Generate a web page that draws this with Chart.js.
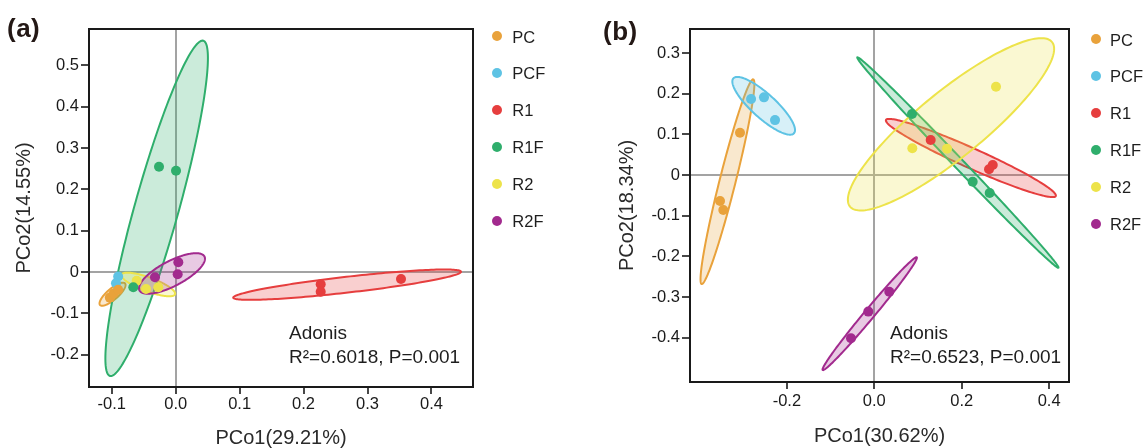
<!DOCTYPE html>
<html>
<head>
<meta charset="utf-8">
<script src="https://cdn.jsdelivr.net/npm/chart.js@4.4.1/dist/chart.umd.min.js"></script>
<style>
  html, body { margin: 0; padding: 0; background: #fff; }
  #wrap { position: relative; width: 1145px; height: 448px; overflow: hidden; background: #fff;
          font-family: 'Liberation Sans', Arial, Helvetica, sans-serif; color: #1e1e1e; }
  canvas { position: absolute; top: 0; }
  .lbl { position: absolute; white-space: nowrap; }
  .panel { font-weight: bold; font-size: 26px; line-height: 30px; letter-spacing: 0.5px; color: #231815; }
  .note { font-size: 19px; line-height: 23.7px; color: #1e1e1e; }
  .leg { font-size: 16.5px; line-height: 20px; color: #1e1e1e; }
  .dot { position: absolute; width: 10px; height: 10px; border-radius: 50%; }
</style>
</head>
<body>
<div id="wrap">
  <canvas id="ca" width="560" height="448" style="left:0px;width:560px;height:448px"></canvas>
  <canvas id="cb" width="585" height="448" style="left:560px;width:585px;height:448px"></canvas>
  <div class="lbl panel" style="left:7px;top:13px">(a)</div>
  <div class="lbl panel" style="left:603px;top:16px">(b)</div>
  <div class="lbl note" style="left:289px;top:321px">Adonis<br>R²=0.6018, P=0.001</div>
  <div class="lbl note" style="left:890px;top:321px">Adonis<br>R²=0.6523, P=0.001</div>
</div>
<script>
// ---------- categories ----------
const GROUPS = ['PC', 'PCF', 'R1', 'R1F', 'R2', 'R2F'];

// ---------- panel (a) sample coordinates [PCo1, PCo2] ----------
const A_PC  = [[-0.103, -0.062], [-0.097, -0.052], [-0.090, -0.043]];
const A_PCF = [[-0.090, -0.011], [-0.0934, -0.0273]];
const A_R1  = [[0.2268, -0.0298], [0.2268, -0.0476], [0.3524, -0.0169]];
const A_R1F = [[-0.0261, 0.2547], [0.0005, 0.245], [-0.0663, -0.037]];
const A_R2  = [[-0.061, -0.021], [-0.0464, -0.041], [-0.0272, -0.037]];
const A_R2F = [[0.0041, 0.0235], [0.0031, -0.0056], [-0.0324, -0.0128]];

// ---------- panel (b) sample coordinates [PCo1, PCo2] ----------
const B_PC  = [[-0.3073, 0.104], [-0.353, -0.064], [-0.3455, -0.086]];
const B_PCF = [[-0.282, 0.187], [-0.2524, 0.191], [-0.2272, 0.135]];
const B_R1  = [[0.129, 0.086], [0.271, 0.0246], [0.2625, 0.014]];
const B_R1F = [[0.0863, 0.150], [0.2251, -0.0164], [0.264, -0.0443]];
const B_R2  = [[0.2785, 0.217], [0.087, 0.0656], [0.1664, 0.0648]];
const B_R2F = [[0.0343, -0.287], [-0.0137, -0.336], [-0.0533, -0.4017]];

// ---------- confidence ellipses: [centre x, centre y, semi-axis 1 (dx, dy), semi-axis 2 (dx, dy)] in data units ----------
const A_ELL_PC  = [-0.0988, -0.0537, 0.01955, 0.0261, 0.00563, -0.01006];
const A_ELL_PCF = null;
const A_ELL_R1  = [0.2681, -0.0307, 0.1781, 0.03145, 0.0014, -0.019];
const A_ELL_R1F = [-0.0298, 0.154, 0.073, 0.4055, 0.0332, -0.0143];
const A_ELL_R2  = [-0.0428, -0.0302, 0.0418, -0.0237, -0.0038, -0.0159];
const A_ELL_R2F = [-0.0058, -0.0036, 0.0508, 0.0411, 0.00906, -0.0268];

const B_ELL_PC  = [-0.336, -0.0165, 0.059, 0.2517, 0.01774, -0.0048];
const B_ELL_PCF = [-0.2531, 0.1702, 0.0693, -0.0676, 0.01845, 0.02189];
const B_ELL_R1  = [0.221, 0.0418, 0.1943, -0.0935, -0.00934, -0.02245];
const B_ELL_R1F = [0.1912, 0.0307, 0.2301, -0.2587, 0.00824, 0.00849];
const B_ELL_R2  = [0.1755, 0.1247, 0.2311, 0.2024, 0.0477, -0.0629];
const B_ELL_R2F = [-0.0105, -0.3411, 0.1076, 0.1386, 0.00879, -0.00787];

// ---------- ticks and labels ----------
const A_X_TICKS  = [-0.1, 0, 0.1, 0.2, 0.3, 0.4];
const A_X_LABELS = ['-0.1', '0.0', '0.1', '0.2', '0.3', '0.4'];
const A_Y_TICKS  = [-0.2, -0.1, 0, 0.1, 0.2, 0.3, 0.4, 0.5];
const A_Y_LABELS = ['-0.2', '-0.1', '0', '0.1', '0.2', '0.3', '0.4', '0.5'];
const B_X_TICKS  = [-0.2, 0, 0.2, 0.4];
const B_X_LABELS = ['-0.2', '0.0', '0.2', '0.4'];
const B_Y_TICKS  = [-0.4, -0.3, -0.2, -0.1, 0, 0.1, 0.2, 0.3];
const B_Y_LABELS = ['-0.4', '-0.3', '-0.2', '-0.1', '0', '0.1', '0.2', '0.3'];

const A_X_TITLE = 'PCo1(29.21%)';
const A_Y_TITLE = 'PCo2(14.55%)';
const B_X_TITLE = 'PCo1(30.62%)';
const B_Y_TITLE = 'PCo2(18.34%)';

// ---------- styles ----------
const COLORS = ['#E9A23B', '#5EC3E4', '#E63E3E', '#2FAE6C', '#EDE34A', '#A22A8E'];
const FONT = "'Liberation Sans', Arial, Helvetica, sans-serif";

function rgba(hex, a) {
  const n = parseInt(hex.slice(1), 16);
  return `rgba(${(n >> 16) & 255},${(n >> 8) & 255},${n & 255},${a})`;
}

function ellipsePlugin(list) {
  return {
    id: 'ellipses',
    beforeDatasetsDraw(chart) {
      const { ctx, scales: { x, y } } = chart;
      list.forEach((e, i) => {
        if (!e) return;
        const [cx, cy, ax, ay, bx, by] = e;
        ctx.save();
        ctx.beginPath();
        const N = 180;
        for (let k = 0; k <= N; k++) {
          const t = (k / N) * Math.PI * 2;
          const px = x.getPixelForValue(cx + ax * Math.cos(t) + bx * Math.sin(t));
          const py = y.getPixelForValue(cy + ay * Math.cos(t) + by * Math.sin(t));
          if (k === 0) ctx.moveTo(px, py); else ctx.lineTo(px, py);
        }
        ctx.closePath();
        ctx.fillStyle = rgba(COLORS[i], 0.25);
        ctx.fill();
        ctx.lineWidth = 2;
        ctx.strokeStyle = COLORS[i];
        ctx.stroke();
        ctx.restore();
      });
    },
    afterDraw(chart) {
      const { ctx, chartArea: a } = chart;
      ctx.save();
      ctx.lineWidth = 2;
      ctx.strokeStyle = '#1a1a1a';
      ctx.strokeRect(a.left, a.top, a.right - a.left, a.bottom - a.top);
      ctx.restore();
    }
  };
}

function axis(opts) {
  return {
    type: 'linear',
    min: opts.min, max: opts.max,
    afterBuildTicks: s => { s.ticks = opts.ticks.map(v => ({ value: v })); },
    afterFit: s => { if (opts.isX) s.height = opts.size; else s.width = opts.size; },
    ticks: {
      autoSkip: false, maxRotation: 0, minRotation: 0,
      padding: opts.tickPad,
      color: '#1a1a1a',
      font: { family: FONT, size: 16.5 },
      callback: (v, i) => opts.labels[i]
    },
    grid: {
      drawOnChartArea: true, drawTicks: true,
      tickLength: opts.tickLen,
      color: c => (c.tick && c.tick.value === 0) ? '#a3a3a3' : 'rgba(0,0,0,0)',
      lineWidth: 2,
      tickColor: '#1a1a1a',
      tickWidth: 1.6
    },
    border: { display: false },
    title: {
      display: true, text: opts.title, color: '#2a2a2a',
      font: { family: FONT, size: 20 },
      padding: opts.titlePad
    }
  };
}

function makeChart(id, series, ells, cfg) {
  const datasets = series.map((pts, i) => ({
    label: GROUPS[i],
    data: pts.map(p => ({ x: p[0], y: p[1] })),
    backgroundColor: COLORS[i],
    borderWidth: 0,
    pointRadius: 5,
    pointHoverRadius: 5
  }));
  return new Chart(document.getElementById(id), {
    type: 'scatter',
    data: { datasets },
    options: {
      responsive: false,
      devicePixelRatio: 1,
      animation: false,
      events: [],
      layout: { padding: cfg.padding },
      plugins: { legend: { display: false }, tooltip: { enabled: false } },
      scales: { x: axis(cfg.x), y: axis(cfg.y) }
    },
    plugins: [ellipsePlugin(ells)]
  });
}

// panel (a): chart area 89..473 x 29..387
makeChart('ca',
  [A_PC, A_PCF, A_R1, A_R1F, A_R2, A_R2F],
  [A_ELL_PC, A_ELL_PCF, A_ELL_R1, A_ELL_R1F, A_ELL_R2, A_ELL_R2F],
  {
    padding: { left: 0, top: 29, right: 87, bottom: 0 },
    x: { isX: true, size: 61, min: -0.1356, max: 0.465, ticks: A_X_TICKS, labels: A_X_LABELS,
         tickLen: 7, tickPad: 1, title: A_X_TITLE, titlePad: { top: 0, bottom: -2 } },
    y: { isX: false, size: 89, min: -0.2782, max: 0.5878, ticks: A_Y_TICKS, labels: A_Y_LABELS,
         tickLen: 8, tickPad: 2, title: A_Y_TITLE, titlePad: { top: 12, bottom: 0 } }
  });

// panel (b): chart area 130..509 (page 690..1069) x 29..382
makeChart('cb',
  [B_PC, B_PCF, B_R1, B_R1F, B_R2, B_R2F],
  [B_ELL_PC, B_ELL_PCF, B_ELL_R1, B_ELL_R1F, B_ELL_R2, B_ELL_R2F],
  {
    padding: { left: 0, top: 29, right: 76, bottom: 0 },
    x: { isX: true, size: 66, min: -0.4217, max: 0.4455, ticks: B_X_TICKS, labels: B_X_LABELS,
         tickLen: 7, tickPad: 2.5, title: B_X_TITLE, titlePad: { top: 0, bottom: 0 } },
    y: { isX: false, size: 130, min: -0.5091, max: 0.3591, ticks: B_Y_TICKS, labels: B_Y_LABELS,
         tickLen: 8, tickPad: 2, title: B_Y_TITLE, titlePad: { top: 55, bottom: 0 } }
  });

// legends
const wrap = document.getElementById('wrap');
function legend(dotX, textX, y0, step) {
  GROUPS.forEach((g, i) => {
    const yc = y0 + i * step;
    const d = document.createElement('div');
    d.className = 'dot';
    d.style.left = (dotX - 5) + 'px';
    d.style.top = (yc - 5) + 'px';
    d.style.background = COLORS[i];
    wrap.appendChild(d);
    const t = document.createElement('div');
    t.className = 'lbl leg';
    t.style.left = textX + 'px';
    t.style.top = (yc - 9.8) + 'px';
    t.textContent = g;
    wrap.appendChild(t);
  });
}
legend(497.3, 512.3, 36.3, 36.9);
legend(1096, 1110, 39.3, 36.9);
</script>
</body>
</html>
